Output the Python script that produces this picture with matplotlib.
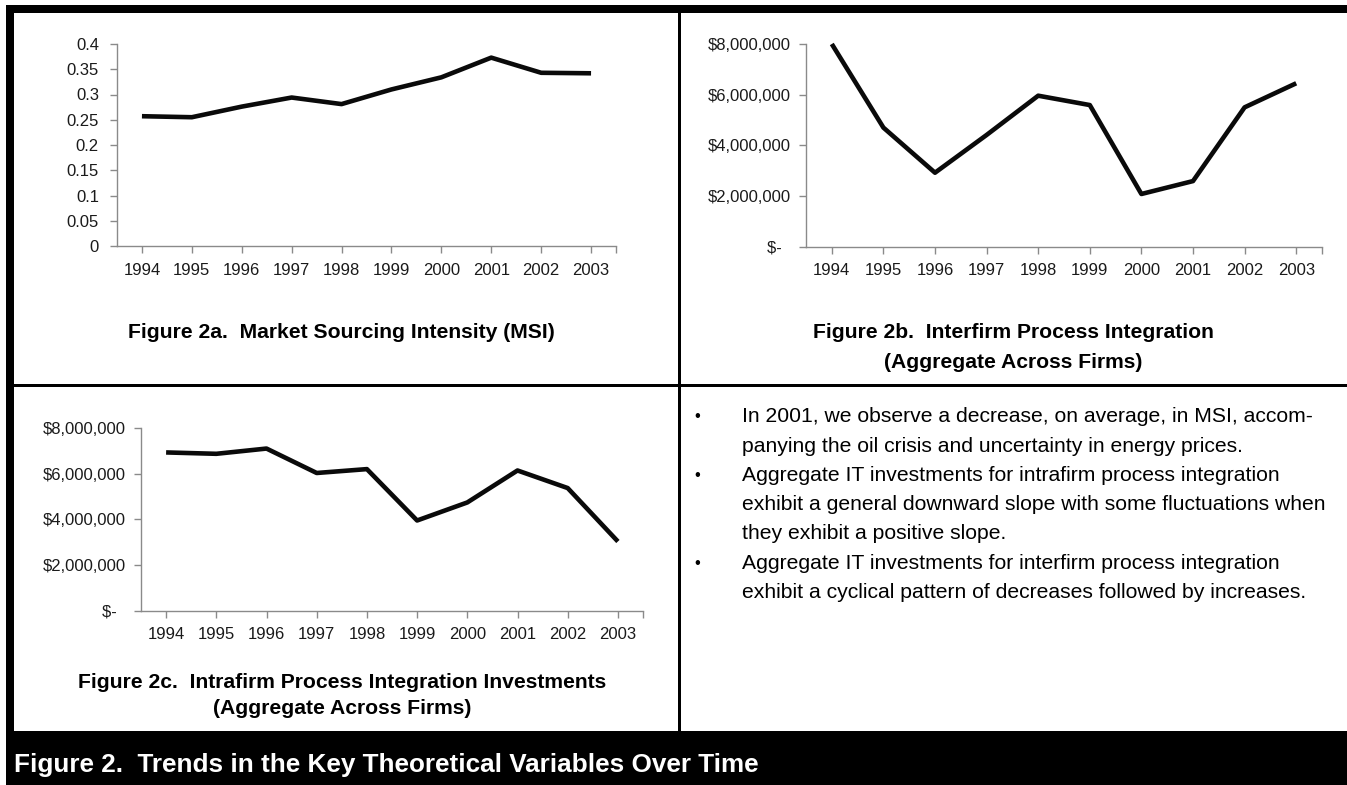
import matplotlib
matplotlib.use("Agg")
import matplotlib.pyplot as plt
from matplotlib.patches import Rectangle

# ---------------- data ----------------
years = ["1994", "1995", "1996", "1997", "1998", "1999", "2000", "2001", "2002", "2003"]
msi = [0.257, 0.255, 0.276, 0.294, 0.281, 0.310, 0.334, 0.373, 0.343, 0.342]
interfirm = [8.00e6, 4.70e6, 2.92e6, 4.41e6, 5.96e6, 5.59e6, 2.08e6, 2.59e6, 5.50e6, 6.45e6]
intrafirm = [6.93e6, 6.87e6, 7.10e6, 6.03e6, 6.20e6, 3.95e6, 4.74e6, 6.14e6, 5.37e6, 3.03e6]

msi_ticks = [0, 0.05, 0.1, 0.15, 0.2, 0.25, 0.3, 0.35, 0.4]
msi_ticklabels = ["0", "0.05", "0.1", "0.15", "0.2", "0.25", "0.3", "0.35", "0.4"]
dollar_ticks = [0, 2e6, 4e6, 6e6, 8e6]
dollar_ticklabels = ["$-  ", "$2,000,000", "$4,000,000", "$6,000,000", "$8,000,000"]

title_a = ["Figure 2a.  Market Sourcing Intensity (MSI)"]
title_b = ["Figure 2b.  Interfirm Process Integration", "(Aggregate Across Firms)"]
title_c = ["Figure 2c.  Intrafirm Process Integration Investments", "(Aggregate Across Firms)"]
bullets = [
    ["In 2001, we observe a decrease, on average, in MSI, accom-",
     "panying the oil crisis and uncertainty in energy prices."],
    ["Aggregate IT investments for intrafirm process integration",
     "exhibit a general downward slope with some fluctuations when",
     "they exhibit a positive slope."],
    ["Aggregate IT investments for interfirm process integration",
     "exhibit a cyclical pattern of decreases followed by increases."],
]
main_title = "Figure 2.  Trends in the Key Theoretical Variables Over Time"

# ---------------- figure ----------------
plt.rcParams['font.family'] = ['Liberation Sans', 'DejaVu Sans']
W, H = 1347, 785
fig = plt.figure(figsize=(W / 100, H / 100), dpi=100)
fig.patch.set_facecolor("white")


def fx(x):
    return x / W


def fy(y):
    return 1 - y / H


def rect_px(x0, y0, x1, y1, color="black"):
    fig.patches.append(Rectangle((fx(x0), fy(y1)), (x1 - x0) / W, (y1 - y0) / H,
                                 transform=fig.transFigure, facecolor=color,
                                 edgecolor="none", zorder=0))


# frame
rect_px(6, 5, 14, 785)          # left border
rect_px(6, 5, W, 13)            # top border
rect_px(678, 13, 681, 731)      # vertical divider
rect_px(14, 384, W, 387)        # horizontal divider
rect_px(6, 731, W, 785)         # title bar

AX_COLOR = "#8a8a8a"
TICK_TXT = "#1a1a1a"
x = list(range(len(years)))


def make_axes(x0, x1, y0, y1):
    ax = fig.add_axes([fx(x0), fy(y1), (x1 - x0) / W, (y1 - y0) / H])
    ax.set_facecolor("none")
    for s in ("top", "right"):
        ax.spines[s].set_visible(False)
    for s in ("left", "bottom"):
        ax.spines[s].set_color(AX_COLOR)
        ax.spines[s].set_linewidth(1.0)
    ax.set_xlim(-0.5, 9.5)
    ax.set_xticks(x)
    ax.set_xticklabels(years)
    ax.set_xticks([9.5], minor=True)
    ax.tick_params(axis="both", which="both", direction="out", length=5, width=1,
                   color=AX_COLOR, labelcolor=TICK_TXT, labelsize=12)
    ax.tick_params(axis="x", pad=7)
    return ax


LINE_KW = dict(color="#0a0a0a", lw=3.3, solid_capstyle="butt",
               solid_joinstyle="round", clip_on=False)

# Figure 2a
ax1 = make_axes(117, 616, 44, 246)
ax1.plot(x, msi, **LINE_KW)
ax1.set_ylim(0, 0.4)
ax1.set_yticks(msi_ticks)
ax1.set_yticklabels(msi_ticklabels)
ax1.tick_params(axis="y", pad=8)

# Figure 2b
ax2 = make_axes(806, 1322, 44, 246.7)
ax2.plot(x, interfirm, **LINE_KW)
ax2.set_ylim(0, 8e6)
ax2.set_yticks(dollar_ticks)
ax2.set_yticklabels(dollar_ticklabels)
ax2.tick_params(axis="y", pad=6)

# Figure 2c
ax3 = make_axes(141, 643, 428, 610.7)
ax3.plot(x, intrafirm, **LINE_KW)
ax3.set_ylim(0, 8e6)
ax3.set_yticks(dollar_ticks)
ax3.set_yticklabels(dollar_ticklabels)
ax3.tick_params(axis="y", pad=6)


def caption(cx, ys, lines):
    for yy, ln in zip(ys, lines):
        fig.text(fx(cx), fy(yy), ln, ha="center", va="center", fontsize=15.2,
                 fontweight="bold", color="black")


caption(341.5, [333], title_a)
caption(1013.5, [333, 362], title_b)
caption(342, [682, 708.5], title_c)

# bullet text
line_y = 416.7
step = 29.3
for group in bullets:
    fig.text(fx(697), fy(line_y), "\u2022", ha="center", va="center", fontsize=12, color="black")
    for ln in group:
        fig.text(fx(742), fy(line_y), ln, ha="left", va="center", fontsize=15.2, color="black")
        line_y += step

# main title in black bar
fig.text(fx(14), fy(765), main_title, ha="left", va="center", fontsize=18.8,
         fontweight="bold", color="white")

fig.savefig("out.png", dpi=100, facecolor="white")
